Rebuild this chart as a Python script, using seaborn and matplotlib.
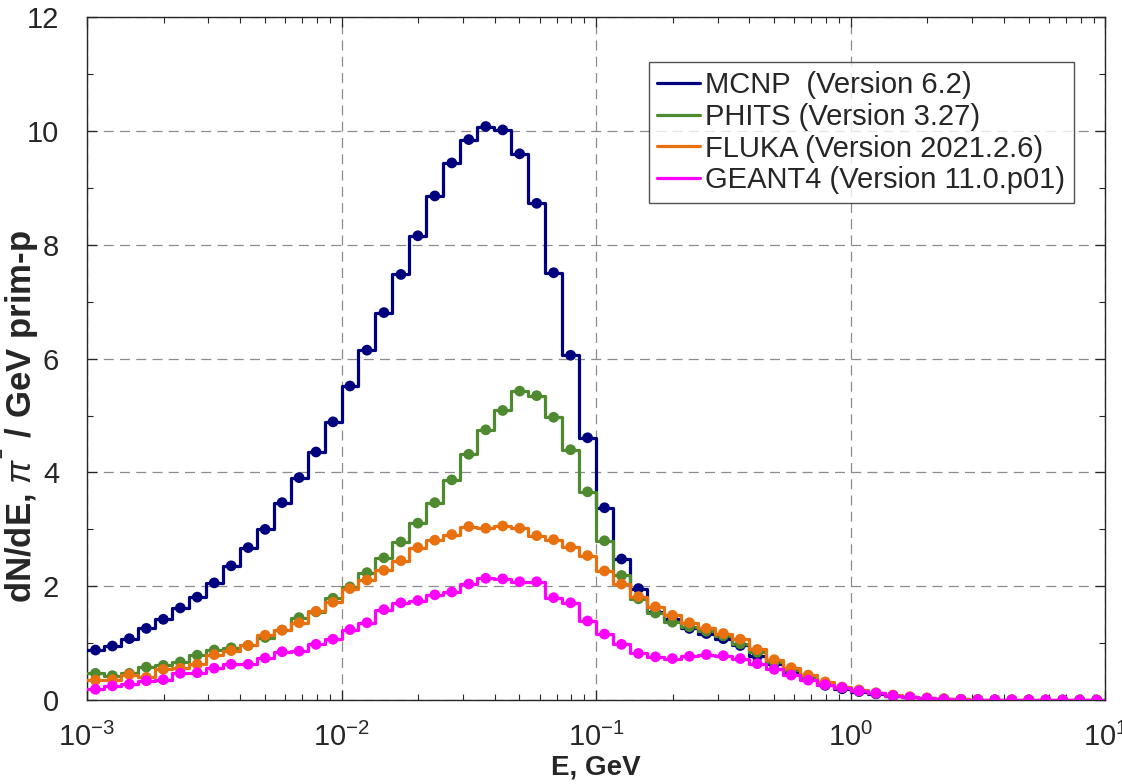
import numpy as np
import pandas as pd
import matplotlib
matplotlib.use("Agg")
import matplotlib.pyplot as plt
import seaborn as sns
from matplotlib.lines import Line2D
from matplotlib.ticker import MultipleLocator, LogLocator, NullFormatter

# Energy binning: 15 logarithmic bins per decade from 1 MeV to 10 GeV
edges = np.logspace(-3, 1, 61)
centers = np.sqrt(edges[:-1] * edges[1:])

mcnp = [0.88, 0.95, 1.08, 1.26, 1.42, 1.62, 1.81, 2.06, 2.36, 2.68, 3.00, 3.47, 3.91, 4.36, 4.89,
        5.52, 6.15, 6.81, 7.48, 8.16, 8.86, 9.44, 9.85, 10.08, 10.02, 9.60, 8.73, 7.51, 6.06, 4.61,
        3.38, 2.48, 1.96, 1.55, 1.42, 1.26, 1.17, 1.08, 0.96, 0.77, 0.63, 0.49, 0.38, 0.26, 0.20,
        0.15, 0.11, 0.07, 0.05, 0.03, 0.02, 0.012, 0.008, 0.005, 0.004, 0.003, 0.002, 0.002, 0.001, 0.001]
phits = [0.47, 0.43, 0.47, 0.58, 0.61, 0.67, 0.79, 0.88, 0.92, 0.96, 1.10, 1.23, 1.45, 1.55, 1.79,
         1.99, 2.24, 2.50, 2.78, 3.11, 3.47, 3.87, 4.32, 4.75, 5.09, 5.43, 5.35, 4.97, 4.40, 3.66,
         2.80, 2.19, 1.78, 1.53, 1.37, 1.29, 1.21, 1.13, 0.99, 0.84, 0.67, 0.53, 0.41, 0.29, 0.22,
         0.16, 0.12, 0.08, 0.05, 0.035, 0.02, 0.013, 0.009, 0.006, 0.004, 0.003, 0.002, 0.002, 0.001, 0.001]
fluka = [0.35, 0.36, 0.45, 0.40, 0.54, 0.56, 0.63, 0.80, 0.87, 0.96, 1.14, 1.23, 1.36, 1.56, 1.72,
         1.96, 2.11, 2.28, 2.45, 2.68, 2.81, 2.91, 3.05, 3.02, 3.06, 3.02, 2.89, 2.82, 2.69, 2.54,
         2.27, 2.04, 1.82, 1.64, 1.49, 1.36, 1.26, 1.17, 1.07, 0.89, 0.71, 0.57, 0.44, 0.32, 0.23,
         0.18, 0.13, 0.09, 0.06, 0.04, 0.025, 0.015, 0.010, 0.007, 0.005, 0.004, 0.003, 0.002, 0.002, 0.001]
geant4 = [0.19, 0.25, 0.28, 0.34, 0.36, 0.47, 0.48, 0.56, 0.63, 0.63, 0.74, 0.85, 0.86, 0.98, 1.07,
          1.24, 1.36, 1.59, 1.71, 1.75, 1.85, 1.90, 2.04, 2.14, 2.13, 2.08, 2.08, 1.80, 1.71, 1.39,
          1.16, 0.98, 0.82, 0.76, 0.73, 0.77, 0.80, 0.78, 0.73, 0.64, 0.54, 0.44, 0.35, 0.27, 0.22,
          0.16, 0.12, 0.08, 0.05, 0.03, 0.015, 0.010, 0.007, 0.005, 0.004, 0.003, 0.002, 0.002, 0.001, 0.001]

codes = ["MCNP", "PHITS", "FLUKA", "GEANT4"]
labels = ["MCNP  (Version 6.2)", "PHITS (Version 3.27)",
          "FLUKA (Version 2021.2.6)", "GEANT4 (Version 11.0.p01)"]
colors = ["#00007f", "#4f8a30", "#e8700f", "#ff00ff"]
series = [mcnp, phits, fluka, geant4]

sns.set_style("ticks")
plt.rcParams["font.family"] = ["Liberation Sans", "DejaVu Sans"]
plt.rcParams["mathtext.fontset"] = "custom"
plt.rcParams["mathtext.rm"] = "Liberation Sans"
plt.rcParams["mathtext.it"] = "Liberation Sans:italic"
plt.rcParams["mathtext.bf"] = "Liberation Sans:bold"

fig = plt.figure(figsize=(11.22, 7.84), dpi=100)
ax = fig.add_axes([0.0775, 0.107, 0.9075, 0.871])

for code, vals, col in zip(codes, series, colors):
    vals = np.asarray(vals)
    step_df = pd.DataFrame({"E": edges, "dNdE": np.append(vals, vals[-1])})
    sns.lineplot(data=step_df, x="E", y="dNdE", ax=ax, color=col, linewidth=2.3,
                 drawstyle="steps-post", estimator=None, sort=False, zorder=3)
    pt_df = pd.DataFrame({"E": centers, "dNdE": vals})
    sns.scatterplot(data=pt_df, x="E", y="dNdE", ax=ax, color=col, s=60,
                    edgecolor="none", linewidth=0, zorder=4)

ax.set_xscale("log")
ax.set_xlim(1e-3, 1e1)
ax.set_ylim(0, 12)
ax.yaxis.set_major_locator(MultipleLocator(2))
ax.yaxis.set_minor_locator(MultipleLocator(1))
ax.xaxis.set_major_locator(LogLocator(base=10, numticks=10))
ax.xaxis.set_minor_locator(LogLocator(base=10, subs=np.arange(2, 10), numticks=20))
ax.xaxis.set_minor_formatter(NullFormatter())

ax.grid(True, which="major", linestyle=(0, (8, 5)), color="#8c8c8c", linewidth=0.9)
ax.set_axisbelow(True)
ax.tick_params(which="both", direction="in", top=True, right=True, colors="#262626",
               labelcolor="#262626", labelsize=21)
ax.tick_params(which="major", length=7, width=0.9)
ax.tick_params(which="minor", length=4, width=0.8)
ax.tick_params(axis="x", which="major", pad=16)
ax.tick_params(axis="y", which="major", pad=20)
for sp in ax.spines.values():
    sp.set_color("#262626")
    sp.set_linewidth(1.0)

ax.set_xlabel("E, GeV", fontsize=20, fontweight="bold", labelpad=2)
ax.set_ylabel(r"dN/dE, $\pi^{^{\mathbf{-}}}$ / GeV prim-p", fontsize=25, fontweight="bold")
ax.yaxis.set_label_coords(-0.045, 0.416)

handles = [Line2D([0], [0], color=c, linewidth=2.3) for c in colors]
leg = ax.legend(handles, labels, loc="upper right", bbox_to_anchor=(0.9696, 0.934),
                borderaxespad=0, fontsize=21, frameon=True, fancybox=False,
                handlelength=1.45, handletextpad=0.2, labelspacing=0.13,
                borderpad=0.3, edgecolor="#262626")
leg.get_frame().set_linewidth(1.0)

fig.savefig("out.png", dpi=100)
